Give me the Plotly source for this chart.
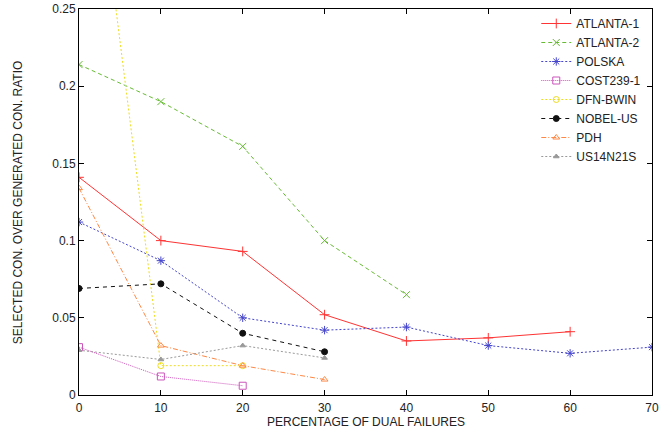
import plotly.graph_objects as go

x_pct = [0, 10, 20, 30, 40, 50, 60, 70]

atlanta1 = [0.141, 0.100, 0.093, 0.052, 0.035, 0.037, 0.041]
atlanta2 = [0.214, 0.190, 0.161, 0.100, 0.065]
polska = [0.112, 0.087, 0.050, 0.042, 0.044, 0.032, 0.027, 0.031]
cost239 = [0.031, 0.012, 0.006]
dfnbwin = [0.44, 0.019, 0.019]
nobelus = [0.069, 0.072, 0.040, 0.028]
pdh = [0.134, 0.032, 0.019, 0.010]
us14n21s = [0.029, 0.023, 0.032, 0.024]

series = [
    ("ATLANTA-1", atlanta1, "#ff3333", "solid", "cross-thin", 7),
    ("ATLANTA-2", atlanta2, "#66bb33", "4px,3px", "x-thin", 7),
    ("POLSKA", polska, "#4444cc", "2px,2px", "asterisk", 7),
    ("COST239-1", cost239, "#cc55bb", "1px,1px", "square-open", 7),
    ("DFN-BWIN", dfnbwin, "#eedd22", "2px,2px", "circle-open", 6),
    ("NOBEL-US", nobelus, "#111111", "4px,4px", "circle", 6),
    ("PDH", pdh, "#ff8844", "5px,2px,1px,2px", "triangle-up-open", 6),
    ("US14N21S", us14n21s, "#999999", "2px,2px", "triangle-up", 5),
]

fig = go.Figure()
for name, vals, col, dash, sym, sz in series:
    fig.add_trace(go.Scatter(
        x=x_pct[:len(vals)], y=vals, name=name, mode="lines+markers",
        line=dict(color=col, width=1, dash=dash),
        marker=dict(symbol=sym, size=sz, color=col, line=dict(color=col, width=1)),
        cliponaxis=True,
    ))

font_fam = "Liberation Sans, Arial, sans-serif"
axis_common = dict(
    showline=True, linecolor="black", linewidth=1, mirror="ticks", automargin=False,
    ticks="inside", ticklen=5, tickcolor="black", showgrid=False, zeroline=False,
    tickfont=dict(family=font_fam, size=12, color="#222"),
)

fig.update_layout(
    width=659, height=437,
    margin=dict(l=79, r=7, t=9, b=42),
    paper_bgcolor="white", plot_bgcolor="white",
    font=dict(family=font_fam, size=12, color="#222"),
    xaxis=dict(range=[0, 70], dtick=10, ticklabelstandoff=2, **axis_common),
    yaxis=dict(range=[0, 0.25], dtick=0.05, **axis_common),
    legend=dict(x=0.99, y=1.0, xanchor="right", yanchor="top", bgcolor="rgba(0,0,0,0)",
                font=dict(size=12), tracegroupgap=0, itemwidth=30),
    showlegend=True,
    annotations=[
        dict(text="PERCENTAGE OF DUAL FAILURES", xref="paper", yref="paper",
             x=0.5, y=-0.07, xanchor="center", yanchor="middle", showarrow=False,
             font=dict(size=12, family=font_fam, color="#222")),
        dict(text="SELECTED CON. OVER GENERATED CON. RATIO", xref="paper", yref="paper",
             x=-0.106, y=0.5, xanchor="center", yanchor="middle", showarrow=False, textangle=-90,
             font=dict(size=12, family=font_fam, color="#222")),
    ],
)

fig.write_html("out.html", config={"displayModeBar": False},
               post_script="document.body.style.margin='0';")
